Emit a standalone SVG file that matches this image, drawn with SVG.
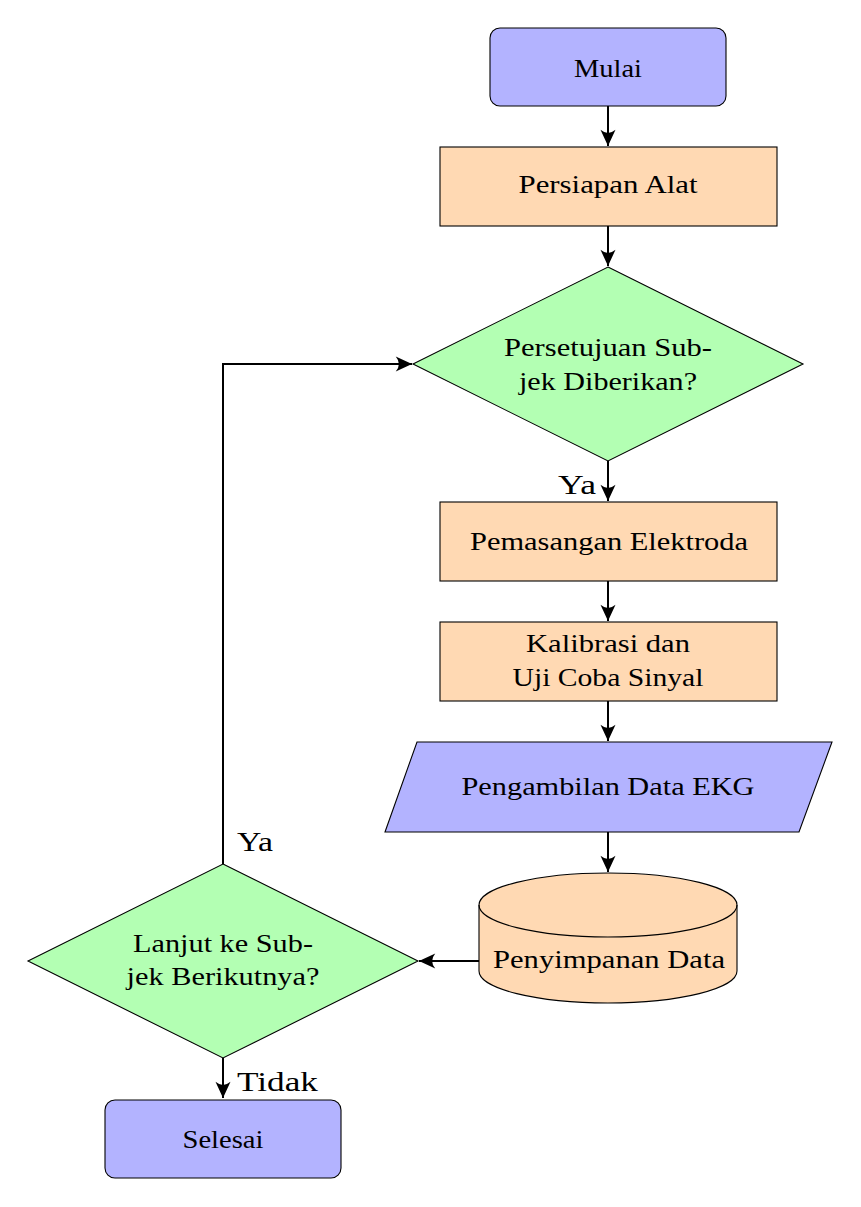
<svg xmlns="http://www.w3.org/2000/svg" width="861" height="1207" viewBox="0 0 861 1207">
<style>
.n{stroke:#000;stroke-width:1.1}
.blue{fill:#b3b3ff}
.orange{fill:#ffd9b3}
.green{fill:#b3ffb3}
text{font-family:'Liberation Serif','DejaVu Serif',serif;fill:#000}
.t{font-size:25px;text-anchor:middle}
.lbl{font-size:28px}
.c{fill:none;stroke:#000;stroke-width:2}
</style>
<defs>
<marker id="ah" markerUnits="userSpaceOnUse" markerWidth="20" markerHeight="20" viewBox="-14 -8 16 16" refX="0" refY="0" orient="auto">
<path d="M0,0 L-13,-6 Q-8,0 -13,6 Z" fill="#000"/>
</marker>
</defs>
<rect width="861" height="1207" fill="#fff"/>
<g id="mulai"><rect class="n blue" x="490" y="28" width="236" height="78" rx="10"/><text class="t" x="608" y="77" textLength="68" lengthAdjust="spacingAndGlyphs">Mulai</text></g>
<g id="persiapan"><rect class="n orange" x="440" y="147" width="337" height="79"/><text class="t" x="608" y="193" textLength="179" lengthAdjust="spacingAndGlyphs">Persiapan Alat</text></g>
<g id="persetujuan"><polygon class="n green" points="608,267 803,364 608,461 413,364"/><text class="t" x="608" y="356" textLength="208" lengthAdjust="spacingAndGlyphs">Persetujuan Sub-</text><text class="t" x="608" y="390" textLength="178" lengthAdjust="spacingAndGlyphs">jek Diberikan?</text></g>
<g id="pemasangan"><rect class="n orange" x="440" y="502" width="337" height="79"/><text class="t" x="609" y="550" textLength="278" lengthAdjust="spacingAndGlyphs">Pemasangan Elektroda</text></g>
<g id="kalibrasi"><rect class="n orange" x="440" y="622" width="337" height="79"/><text class="t" x="608" y="652" textLength="164" lengthAdjust="spacingAndGlyphs">Kalibrasi dan</text><text class="t" x="608" y="686" textLength="191" lengthAdjust="spacingAndGlyphs">Uji Coba Sinyal</text></g>
<g id="pengambilan"><polygon class="n blue" points="417,742 832,742 799,832 385,832"/><text class="t" x="608" y="795" textLength="293" lengthAdjust="spacingAndGlyphs">Pengambilan Data EKG</text></g>
<g id="penyimpanan"><path class="n orange" d="M479,905 A129,32 0 0 1 737,905 L737,971 A129,32 0 0 1 479,971 Z"/><path class="n" fill="none" d="M479,905 A129,32 0 0 0 737,905"/><text class="t" x="609" y="968" textLength="232" lengthAdjust="spacingAndGlyphs">Penyimpanan Data</text></g>
<g id="lanjut"><polygon class="n green" points="223,864 418,961 223,1058 28,961"/><text class="t" x="223" y="952" textLength="180" lengthAdjust="spacingAndGlyphs">Lanjut ke Sub-</text><text class="t" x="223" y="985" textLength="193" lengthAdjust="spacingAndGlyphs">jek Berikutnya?</text></g>
<g id="selesai"><rect class="n blue" x="105" y="1100" width="236" height="78" rx="10"/><text class="t" x="223" y="1148" textLength="81" lengthAdjust="spacingAndGlyphs">Selesai</text></g>
<g id="connectors">
<line class="c" x1="608" y1="106" x2="608" y2="146" marker-end="url(#ah)"/>
<line class="c" x1="608" y1="226" x2="608" y2="266" marker-end="url(#ah)"/>
<line class="c" x1="608" y1="461" x2="608" y2="501" marker-end="url(#ah)"/>
<line class="c" x1="608" y1="581" x2="608" y2="621" marker-end="url(#ah)"/>
<line class="c" x1="608" y1="701" x2="608" y2="741" marker-end="url(#ah)"/>
<line class="c" x1="608" y1="832" x2="608" y2="872" marker-end="url(#ah)"/>
<line class="c" x1="479" y1="961" x2="419" y2="961" marker-end="url(#ah)"/>
<line class="c" x1="223" y1="1058" x2="223" y2="1098" marker-end="url(#ah)"/>
<polyline class="c" points="223,864 223,364 412,364" marker-end="url(#ah)"/>
<text class="lbl" x="558" y="494" textLength="38" lengthAdjust="spacingAndGlyphs">Ya</text>
<text class="lbl" x="237" y="851" textLength="36" lengthAdjust="spacingAndGlyphs">Ya</text>
<text class="lbl" x="237" y="1091" textLength="81" lengthAdjust="spacingAndGlyphs">Tidak</text>
</g>
</svg>
